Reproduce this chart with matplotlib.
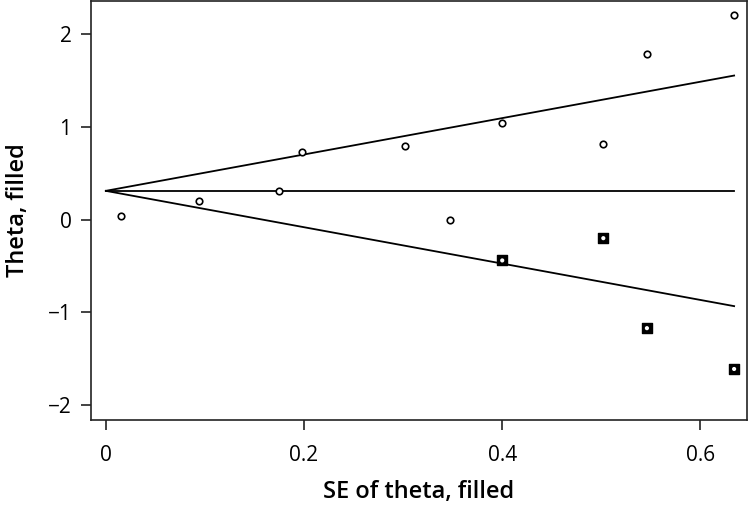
import matplotlib
matplotlib.use("Agg")
import matplotlib.pyplot as plt

# observed studies
se_obs = [0.015, 0.094, 0.175, 0.198, 0.302, 0.347, 0.400, 0.502, 0.546, 0.634]
theta_obs = [0.04, 0.20, 0.31, 0.73, 0.79, 0.00, 1.04, 0.81, 1.78, 2.21]

# filled (imputed) studies
se_fill = [0.400, 0.502, 0.546, 0.634]
theta_fill = [-0.44, -0.20, -1.17, -1.61]

# pooled estimate and funnel limits
theta_pooled = 0.31
se_max = 0.634

plt.rcParams['font.family'] = ['Open Sans', 'DejaVu Sans']

fig = plt.figure(figsize=(7.5, 5.08), dpi=100)
ax = fig.add_axes([0.1213, 0.1732, 0.8747, 0.8248])

se_line = [0, se_max]
ax.plot(se_line, [theta_pooled, theta_pooled], color='black', lw=1.3)
ax.plot(se_line, [theta_pooled, theta_pooled + 1.96 * se_max], color='black', lw=1.3)
ax.plot(se_line, [theta_pooled, theta_pooled - 1.96 * se_max], color='black', lw=1.3)

ax.scatter(se_obs, theta_obs, s=22, facecolors='white', edgecolors='black',
           linewidths=1.2, zorder=3)
ax.scatter(se_fill, theta_fill, s=60, marker='s', color='black', zorder=3)
ax.scatter(se_fill, theta_fill, s=9, facecolors='white', edgecolors='none', zorder=4)

ax.set_xlim(-0.015, 0.647)
ax.set_ylim(-2.16, 2.356)
ax.set_xticks([0, 0.2, 0.4, 0.6])
ax.set_xticklabels(['0', '0.2', '0.4', '0.6'])
ax.set_yticks([-2, -1, 0, 1, 2])
ax.set_yticklabels(['\u22122', '\u22121', '0', '1', '2'])

for sp in ax.spines.values():
    sp.set_linewidth(1.2)
    sp.set_color('#222222')
ax.tick_params(direction='out', length=7, width=1.2, labelsize=15, pad=7,
               color='#222222')
ax.tick_params(axis='x', pad=11)

ax.set_xlabel('SE of theta, filled', fontsize=17, fontweight='semibold', labelpad=10)
ax.set_ylabel('Theta, filled', fontsize=17, fontweight='semibold', labelpad=13)

fig.savefig('out.png', dpi=100)
